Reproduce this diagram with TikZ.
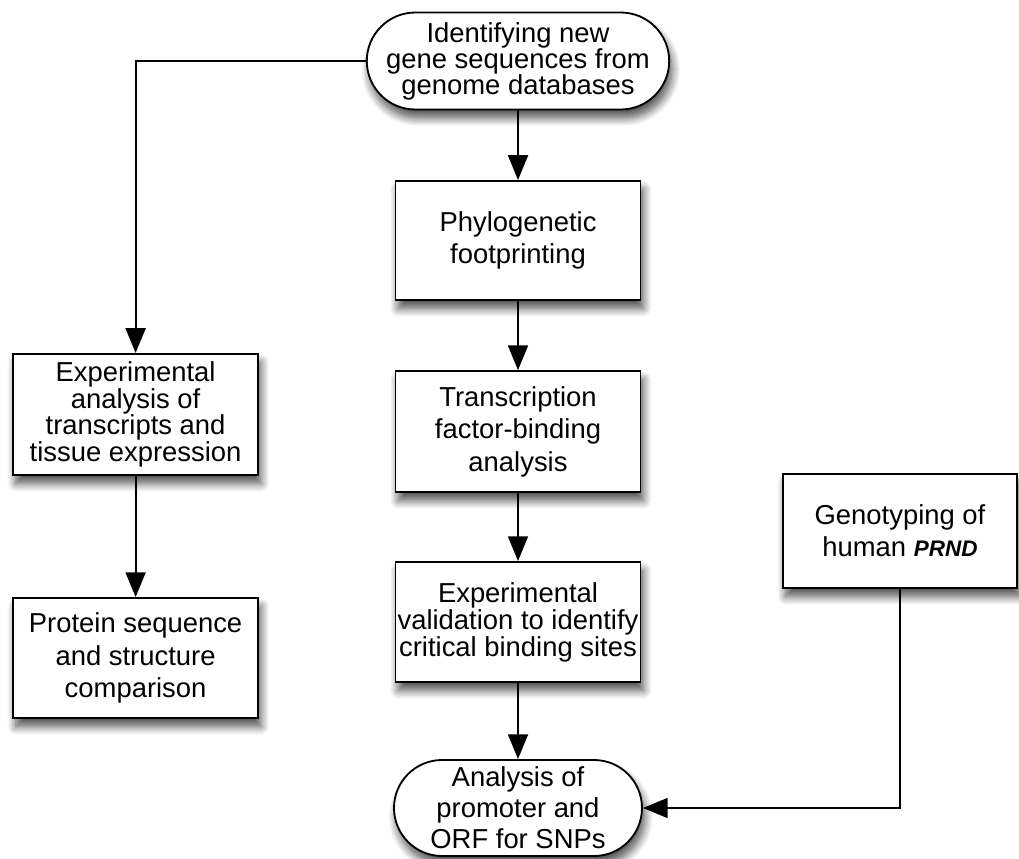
\documentclass[tikz,border=0pt]{standalone}
\usepackage{fontspec}
\setmainfont{Liberation Sans}
\usetikzlibrary{shapes.misc,arrows.meta,shadows.blur}

\tikzset{
  stepbox/.style={draw, line width=1.3pt, fill=white, rectangle, align=center,
    inner sep=0pt, minimum width=6.125cm,
    blur shadow={shadow xshift=2pt, shadow yshift=-6pt, shadow blur radius=6pt, shadow blur steps=10, shadow opacity=70},
    font=\fontsize{19.5}{23}\selectfont},
  endbox/.style={stepbox, rounded rectangle},
  flow/.style={-{Triangle[length=0.62cm,width=0.5cm]}, line width=1.3pt}
}

\begin{document}
\begin{tikzpicture}
    \useasboundingbox (0,0) rectangle (25.475,-21.475);

    \node[endbox, minimum width=6.575cm, minimum height=2.425cm, font=\fontsize{19.5}{18.5}\selectfont] (start) at (12.95,-1.525) {Identifying new\\gene sequences from\\genome databases};

    \node[stepbox, minimum height=2.975cm] (phylo) at (12.95,-6.01) {Phylogenetic\\footprinting};
    \node[stepbox, minimum height=3.025cm] (tfbind) at (12.95,-10.79) {Transcription\\factor-binding\\analysis};
    \node[stepbox, minimum height=3cm, font=\fontsize{19.5}{17.5}\selectfont] (expval) at (12.95,-15.55) {Experimental\\validation to identify\\critical binding sites};
    \node[endbox, minimum width=6.2cm, minimum height=2.4cm, font=\fontsize{19.5}{22}\selectfont] (analysis) at (12.95,-20.2) {Analysis of\\promoter and\\ORF for SNPs};

    \node[stepbox, minimum height=3.025cm, font=\fontsize{19.5}{19}\selectfont] (exptx) at (3.39,-10.36) {Experimental\\analysis of\\transcripts and\\tissue expression};
    \node[stepbox, minimum height=3cm] (protein) at (3.39,-16.45) {Protein sequence\\and structure\\comparison};

    \node[stepbox, minimum width=5.85cm, minimum height=2.85cm] (geno) at (22.5,-13.275) {Genotyping of\\human {\fontsize{16}{20}\selectfont\bfseries\itshape PRND}};

    \draw[flow] (start) -- (phylo);
    \draw[flow] (phylo) -- (tfbind);
    \draw[flow] (tfbind) -- (expval);
    \draw[flow] (expval) -- (analysis);
    \draw[flow] (start.west) -| (exptx.north);
    \draw[flow] (exptx) -- (protein);
    \draw[flow] (geno.south) |- (analysis.east);
\end{tikzpicture}
\end{document}
